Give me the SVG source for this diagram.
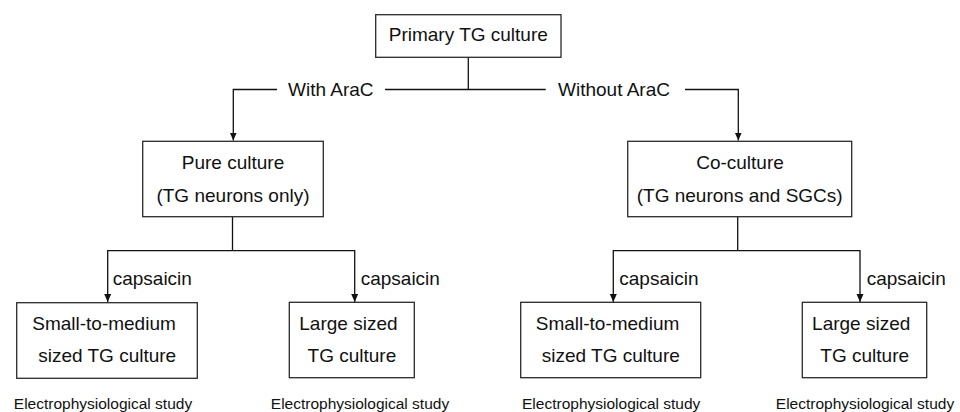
<svg xmlns="http://www.w3.org/2000/svg" width="960" height="412" viewBox="0 0 960 412">
<style>
  .box { fill: #ffffff; stroke: #2a2a2a; stroke-width: 1.3; }
  .t { font-family: "Liberation Sans", Arial, sans-serif; font-size: 19px; fill: #111; }
  .m { text-anchor: middle; }
  .s { font-family: "Liberation Sans", Arial, sans-serif; font-size: 15.5px; fill: #111; text-anchor: middle; }
  .c { fill: none; stroke: #111; stroke-width: 1.3; }
</style>
<defs>
  <marker id="arr" markerUnits="userSpaceOnUse" markerWidth="9" markerHeight="8" refX="8" refY="3.5" orient="auto">
    <path d="M0,0 L8,3.5 L0,7 z" fill="#111"/>
  </marker>
</defs>
<rect width="960" height="412" fill="#ffffff"/>
<g id="connectors">
  <path class="c" d="M468.3,57.3 V89.5"/>
  <path class="c" d="M385,89.5 H545.7"/>
  <path class="c" d="M277,89.5 H233.3 V140.5" marker-end="url(#arr)"/>
  <path class="c" d="M685,89.5 H738.3 V140.5" marker-end="url(#arr)"/>
  <path class="c" d="M232.5,216.7 V250.7"/>
  <path class="c" d="M232.5,250.7 H107.7 V302" marker-end="url(#arr)"/>
  <path class="c" d="M232.5,250.7 H354.7 V302" marker-end="url(#arr)"/>
  <path class="c" d="M737.7,216.7 V250.7"/>
  <path class="c" d="M737.7,250.7 H613.3 V302" marker-end="url(#arr)"/>
  <path class="c" d="M737.7,250.7 H860 V302" marker-end="url(#arr)"/>
  <text class="t" x="288" y="96">With AraC</text>
  <text class="t" x="558" y="96">Without AraC</text>
  <text class="t" x="112.7" y="285">capsaicin</text>
  <text class="t" x="360.7" y="285">capsaicin</text>
  <text class="t" x="619.3" y="285">capsaicin</text>
  <text class="t" x="866.7" y="285">capsaicin</text>
</g>
<g id="primary">
  <rect class="box" x="375.7" y="14.7" width="185.3" height="42.6"/>
  <text class="t m" x="468.3" y="41">Primary TG culture</text>
</g>
<g id="pure">
  <rect class="box" x="142.7" y="141.3" width="180.6" height="75.4"/>
  <text class="t m" x="233" y="168.5">Pure culture</text>
  <text class="t m" x="233" y="202">(TG neurons only)</text>
</g>
<g id="coculture">
  <rect class="box" x="627.7" y="141.3" width="224" height="75.4"/>
  <text class="t m" x="740" y="168.5">Co-culture</text>
  <text class="t m" x="739.7" y="202">(TG neurons and SGCs)</text>
</g>
<g id="pure-small">
  <rect class="box" x="16.7" y="302.7" width="180.6" height="75.6"/>
  <text class="t m" x="104" y="329.5">Small-to-medium</text>
  <text class="t m" x="107.2" y="362">sized TG culture</text>
</g>
<g id="pure-large">
  <rect class="box" x="289.3" y="302.3" width="125" height="75.4"/>
  <text class="t m" x="348.4" y="329.5">Large sized</text>
  <text class="t m" x="351.9" y="362">TG culture</text>
</g>
<g id="co-small">
  <rect class="box" x="520.7" y="302.3" width="180" height="75.4"/>
  <text class="t m" x="607.5" y="329.5">Small-to-medium</text>
  <text class="t m" x="610.8" y="362">sized TG culture</text>
</g>
<g id="co-large">
  <rect class="box" x="802.3" y="302.3" width="124.4" height="75.4"/>
  <text class="t m" x="861.2" y="329.5">Large sized</text>
  <text class="t m" x="864.7" y="362">TG culture</text>
</g>
<g id="studies">
  <text class="s" x="103" y="409">Electrophysiological study</text>
  <text class="s" x="360" y="409">Electrophysiological study</text>
  <text class="s" x="611.2" y="409">Electrophysiological study</text>
  <text class="s" x="865" y="409">Electrophysiological study</text>
</g>
</svg>
